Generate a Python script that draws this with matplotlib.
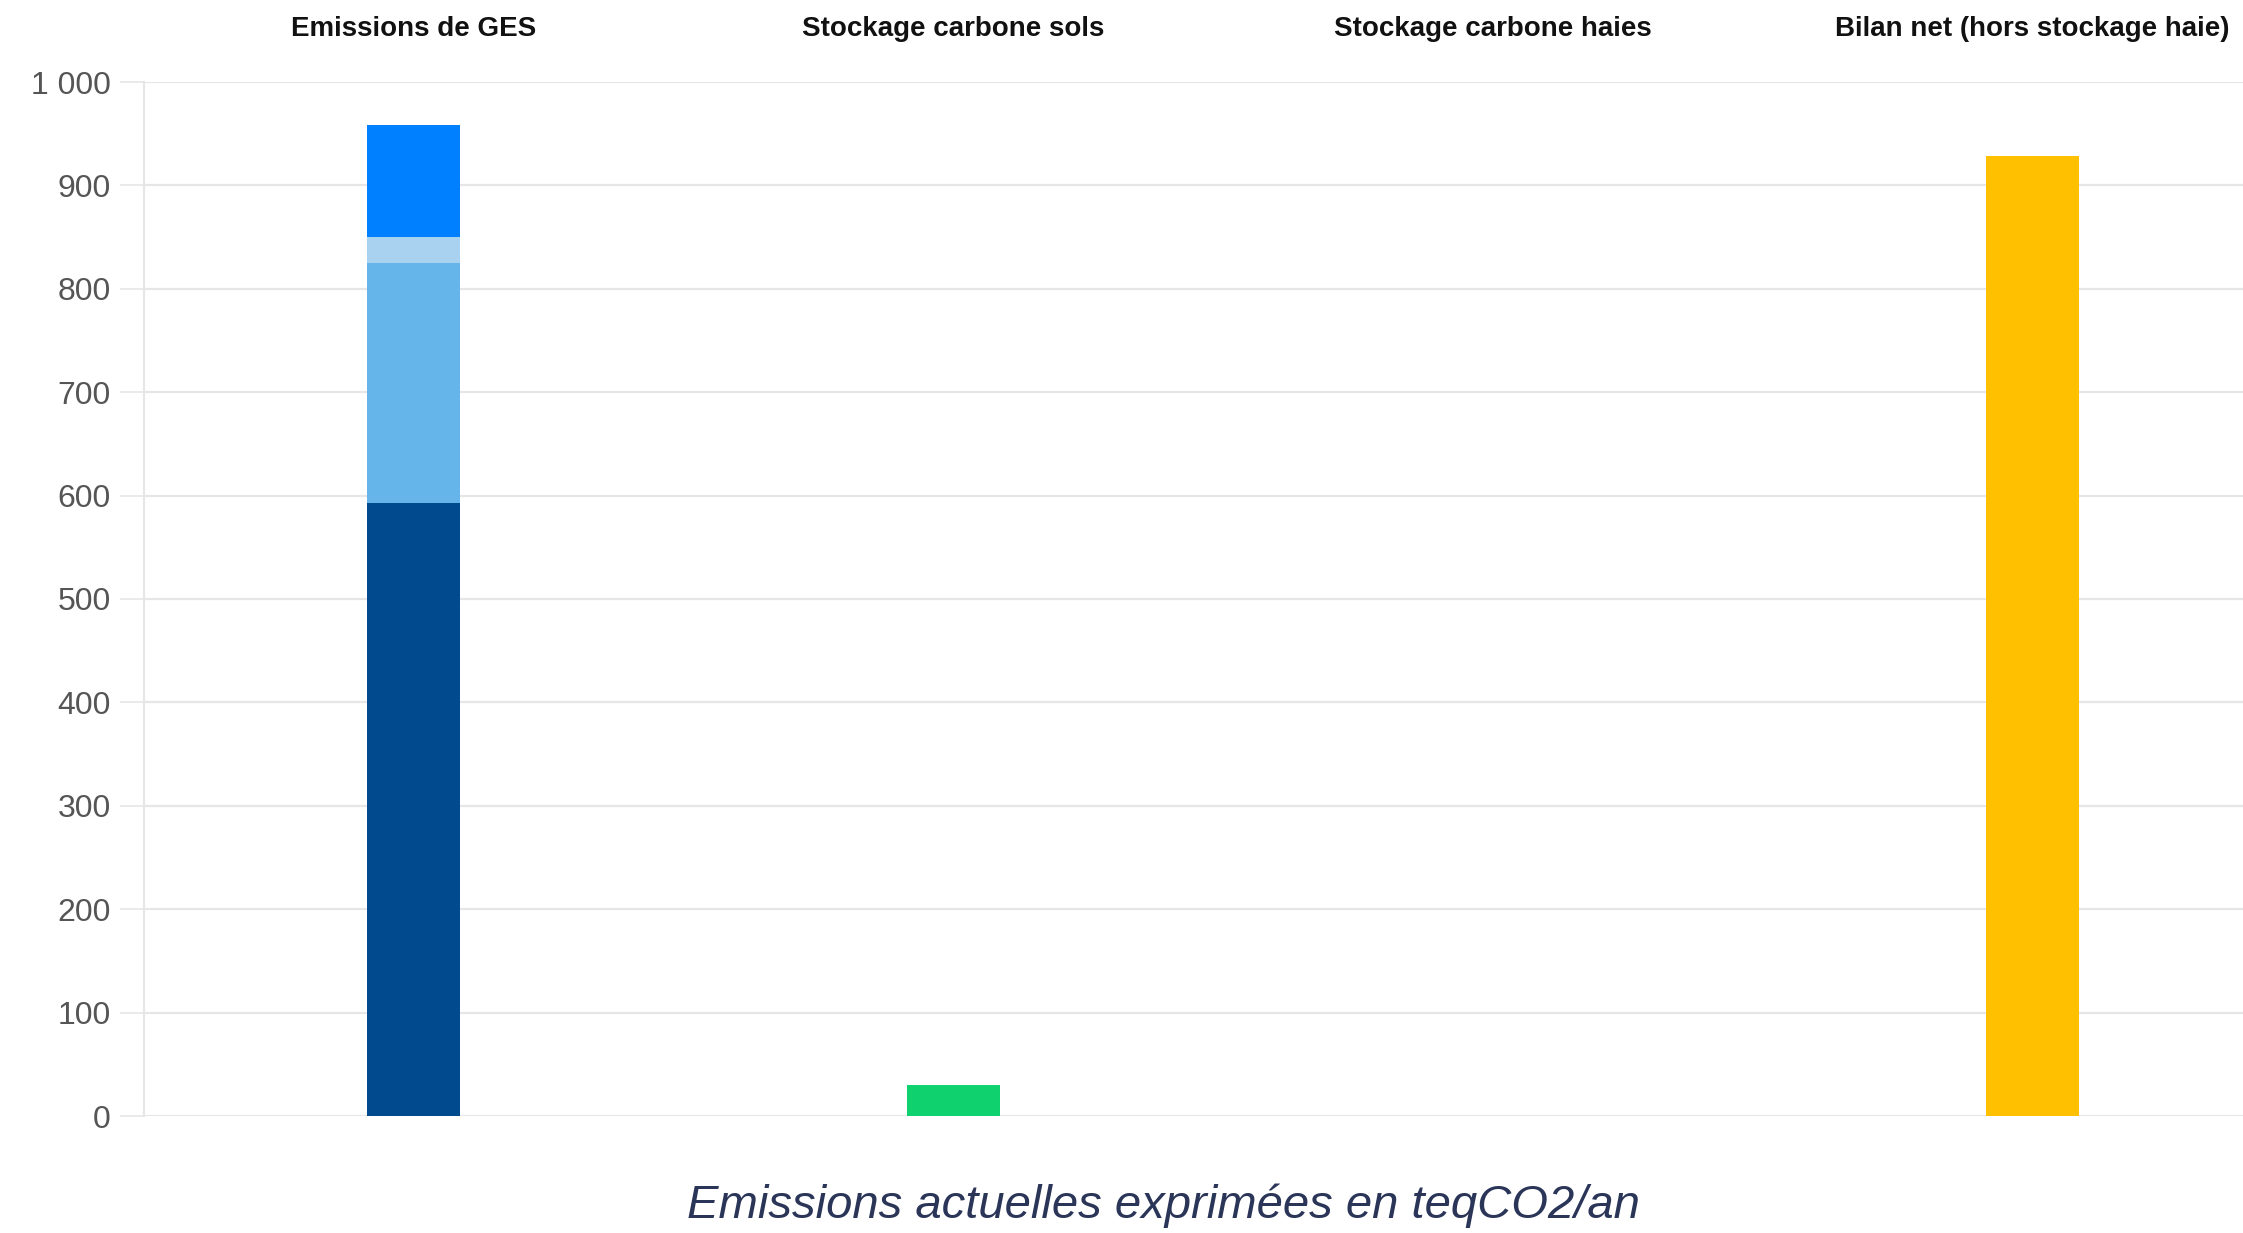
import matplotlib
matplotlib.use('Agg')
import matplotlib.pyplot as plt

# ── data (teqCO2/an) ──
categories = ['Emissions de GES', 'Stockage carbone sols',
              'Stockage carbone haies', 'Bilan net (hors stockage haie)']

# stacked segments of the emissions bar, bottom -> top
ges_segments = [593, 232, 25, 108]
ges_colors   = ['#024a8e', '#66b5ea', '#a9d1f0', '#0080ff']

stock_sols  = 30
stock_haies = 0
bilan_net   = 928

yticks       = [0, 100, 200, 300, 400, 500, 600, 700, 800, 900, 1000]
ytick_labels = ['0', '100', '200', '300', '400', '500', '600', '700', '800', '900', '1 000']

W, H = 2243, 1233
fig = plt.figure(figsize=(W / 100, H / 100), dpi=100)
ax = fig.add_axes([144 / W, 1 - 1116 / H, 1 - 144 / W, (1116 - 82) / H])

BAR_W = 0.172
x = list(range(len(categories)))

bottom = 0
for val, col in zip(ges_segments, ges_colors):
    ax.bar(x[0], val, bottom=bottom, width=BAR_W, color=col, zorder=3)
    bottom += val

ax.bar(x[1], stock_sols, width=BAR_W, color='#0fd16e', zorder=3)
ax.bar(x[2], stock_haies, width=BAR_W, color='#2e8b57', zorder=3)
ax.bar(x[3], bilan_net, width=BAR_W, color='#ffc000', zorder=3)

ax.set_xlim(-0.5, 3.39)
ax.set_ylim(0, 1000)

ax.set_yticks(yticks)
ax.set_yticklabels(ytick_labels, fontsize=23, color='#555555',
                   family='Liberation Sans')
ax.tick_params(axis='y', length=17, width=1.2, color='#e6e6e6', pad=7)
ax.set_xticks([])
ax.grid(axis='y', color='#e6e6e6', lw=1.6, zorder=0)

for s in ['top', 'right', 'bottom']:
    ax.spines[s].set_visible(False)
ax.spines['left'].set_color('#e6e6e6')
ax.spines['left'].set_linewidth(1.5)

# category labels on top
for xi, lab in zip(x, categories):
    ax.text(xi, 1.051, lab, transform=ax.get_xaxis_transform(),
            ha='center', va='center', fontsize=20, fontweight='bold',
            family='Liberation Sans', color='#111111')

fig.text(1163 / W, 1 - 1206 / H, 'Emissions actuelles exprimées en teqCO2/an',
         ha='center', va='center', fontsize=34, style='italic',
         family='Liberation Sans', color='#2a3558')

fig.savefig('out.png', dpi=100, facecolor='white')
